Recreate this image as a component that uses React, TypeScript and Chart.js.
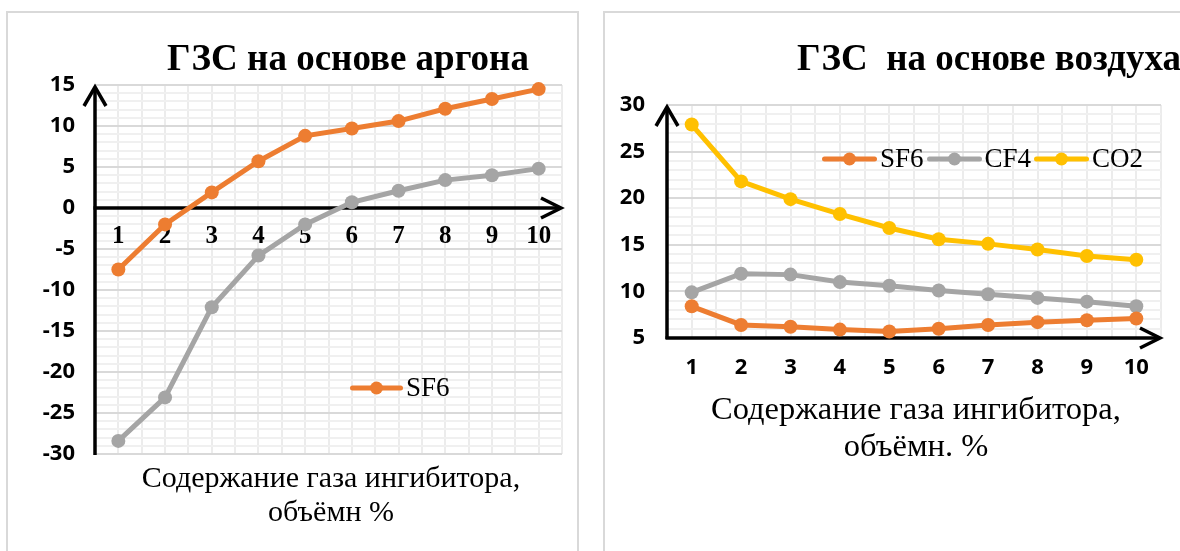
import React, { useEffect, useRef } from 'react';
import { Chart, registerables } from 'chart.js';

Chart.register(...registerables);

// ---------- data ----------
const categories = [1, 2, 3, 4, 5, 6, 7, 8, 9, 10];

// chart 1: ГЗС на основе аргона
const argonSF6 = [-7.5, -2.0, 1.9, 5.7, 8.8, 9.7, 10.6, 12.1, 13.3, 14.5];
const argonCF4 = [-28.4, -23.1, -12.1, -5.8, -2.0, 0.7, 2.1, 3.4, 4.0, 4.8];
const argonYMin = -30;
const argonYMax = 15;

// chart 2: ГЗС на основе воздуха
const airSF6 = [8.4, 6.4, 6.2, 5.9, 5.7, 6.0, 6.4, 6.7, 6.9, 7.1];
const airCF4 = [9.9, 11.9, 11.8, 11.0, 10.6, 10.1, 9.7, 9.3, 8.9, 8.4];
const airCO2 = [27.9, 21.8, 19.9, 18.3, 16.8, 15.6, 15.1, 14.5, 13.8, 13.4];
const airYMin = 5;
const airYMax = 30;

const majorStep = 5;

const titleArgon = 'ГЗС на основе аргона';
const titleAir = 'ГЗС  на основе воздуха';
const xTitleArgon = ['Содержание газа ингибитора,', 'объёмн %'];
const xTitleAir = ['Содержание газа ингибитора,', 'объёмн. %'];

const COLORS: Record<string, string> = {
  SF6: '#ED7D31',
  CF4: '#A5A5A5',
  CO2: '#FFC000',
};

const SERIF = '"Liberation Serif", "Times New Roman", serif';
const SANS = '"Noto Sans", "Open Sans", sans-serif';

const toXY = (vals: number[]) => categories.map((c, i) => ({ x: c, y: vals[i] }));

// ---------- plugin drawing the arrowed axes ----------
const axisArrows = {
  id: 'axisArrows',
  beforeDatasetsDraw(chart: any, _args: any, opts: any) {
    const { ctx, chartArea, scales } = chart;
    const yScale = scales.y;
    const xLine = chartArea.left;
    const yLine = opts.at === undefined ? chartArea.bottom : yScale.getPixelForValue(opts.at);
    const topTip = chartArea.top + 2;
    const rightTip = chartArea.right - 1;
    ctx.save();
    ctx.strokeStyle = '#000';
    ctx.lineWidth = 3.5;
    ctx.lineJoin = 'miter';
    ctx.lineCap = 'butt';
    // vertical axis
    ctx.beginPath();
    ctx.moveTo(xLine, chartArea.bottom + 1);
    ctx.lineTo(xLine, topTip);
    ctx.stroke();
    ctx.beginPath();
    ctx.moveTo(xLine - 11, topTip + 19);
    ctx.lineTo(xLine, topTip);
    ctx.lineTo(xLine + 11, topTip + 19);
    ctx.stroke();
    // horizontal axis
    ctx.beginPath();
    ctx.moveTo(xLine - 1.5, yLine);
    ctx.lineTo(rightTip, yLine);
    ctx.stroke();
    ctx.beginPath();
    ctx.moveTo(rightTip - 20, yLine - 10);
    ctx.lineTo(rightTip, yLine);
    ctx.lineTo(rightTip - 20, yLine + 10);
    ctx.stroke();
    ctx.restore();
  },
};

type Cfg = {
  series: { name: string; values: number[] }[];
  yMin: number;
  yMax: number;
  xAt?: number;
  xHeight: number;
  xTickFont: any;
  xTickPad: number;
  yTickPad: number;
  yWidth: number;
  padding: { left: number; right: number; top: number; bottom: number };
};

function buildConfig(c: Cfg): any {
  return {
    type: 'line',
    data: {
      datasets: c.series.map((s) => ({
        label: s.name,
        data: toXY(s.values),
        borderColor: COLORS[s.name],
        backgroundColor: COLORS[s.name],
        pointBackgroundColor: COLORS[s.name],
        pointBorderColor: COLORS[s.name],
        borderWidth: 5,
        pointRadius: 7,
        pointBorderWidth: 0,
        tension: 0,
        clip: false,
      })),
    },
    plugins: [axisArrows],
    options: {
      animation: false,
      responsive: false,
      maintainAspectRatio: false,
      layout: { padding: c.padding },
      plugins: {
        legend: { display: false },
        title: { display: false },
        tooltip: { enabled: false },
        axisArrows: { at: c.xAt },
      },
      scales: {
        x: {
          type: 'linear',
          min: categories[0] - 0.5,
          max: categories[categories.length - 1] + 0.5,
          position: c.xAt === undefined ? 'bottom' : { y: c.xAt },
          afterFit: (s: any) => {
            s.height = c.xHeight;
          },
          border: { display: false },
          grid: { color: '#ececec', lineWidth: 2, drawTicks: false },
          ticks: {
            stepSize: 0.5,
            autoSkip: false,
            maxRotation: 0,
            padding: c.xTickPad,
            color: '#000',
            font: c.xTickFont,
            callback: (v: number) => {
              const idx = categories.indexOf(v);
              return idx >= 0 ? String(categories[idx]) : '';
            },
          },
        },
        y: {
          type: 'linear',
          min: c.yMin,
          max: c.yMax,
          position: 'left',
          afterFit: (s: any) => {
            s.width = c.yWidth;
          },
          border: { display: false },
          grid: {
            color: (ctx: any) =>
              ctx.tick && ctx.tick.value % majorStep === 0 ? '#d9d9d9' : '#f0f0f0',
            lineWidth: 2,
            drawTicks: false,
          },
          ticks: {
            stepSize: 1,
            autoSkip: false,
            padding: c.yTickPad,
            color: '#000',
            font: { family: SANS, weight: 'bold', size: 22 },
            callback: (v: number) => (v % majorStep === 0 ? String(v) : ''),
          },
        },
      },
    },
  };
}

function ChartCanvas({ cfg, left, top, width, height }: { cfg: Cfg; left: number; top: number; width: number; height: number }) {
  const ref = useRef<HTMLCanvasElement>(null);
  useEffect(() => {
    const chart = new Chart(ref.current as HTMLCanvasElement, buildConfig(cfg));
    return () => chart.destroy();
  }, []);
  return (
    <canvas
      ref={ref}
      width={width}
      height={height}
      style={{ position: 'absolute', left, top, width, height }}
    />
  );
}

function Legend({ items, left, top, fontSize, swatch }: { items: string[]; left: number; top: number; fontSize: number; swatch: number }) {
  return (
    <div
      style={{
        position: 'absolute',
        left,
        top,
        height: fontSize,
        display: 'flex',
        alignItems: 'center',
        fontFamily: SERIF,
        fontSize,
        lineHeight: fontSize + 'px',
        whiteSpace: 'nowrap',
        color: '#000',
      }}
    >
      {items.map((name) => (
        <div key={name} style={{ display: 'flex', alignItems: 'center', marginRight: 3 }}>
          <svg width={swatch} height={14} style={{ display: 'block' }}>
            <line x1={2.5} y1={7} x2={swatch - 2.5} y2={7} stroke={COLORS[name]} strokeWidth={5} strokeLinecap="round" />
            <circle cx={swatch / 2} cy={7} r={6.5} fill={COLORS[name]} />
          </svg>
          <span style={{ marginLeft: 3 }}>{name}</span>
        </div>
      ))}
    </div>
  );
}

function TextBlock({ lines, cx, top, fontSize, lineHeight, bold }: { lines: string[]; cx: number; top: number; fontSize: number; lineHeight: number; bold?: boolean }) {
  return (
    <div
      style={{
        position: 'absolute',
        left: cx - 350,
        top,
        width: 700,
        textAlign: 'center',
        fontFamily: SERIF,
        fontSize,
        lineHeight: lineHeight + 'px',
        fontWeight: bold ? 'bold' : 'normal',
        whiteSpace: 'pre',
        color: '#000',
      }}
    >
      {lines.map((l, i) => (
        <div key={i}>{l}</div>
      ))}
    </div>
  );
}

const argonCfg: Cfg = {
  series: [
    { name: 'SF6', values: argonSF6 },
    { name: 'CF4', values: argonCF4 },
  ],
  yMin: argonYMin,
  yMax: argonYMax,
  xAt: 0,
  xHeight: 0,
  xTickFont: { family: SERIF, weight: 'bold', size: 25 },
  xTickPad: 14,
  yTickPad: 20,
  yWidth: 95,
  padding: { left: 0, right: 28, top: 85, bottom: 97 },
};

const airCfg: Cfg = {
  series: [
    { name: 'SF6', values: airSF6 },
    { name: 'CF4', values: airCF4 },
    { name: 'CO2', values: airCO2 },
  ],
  yMin: airYMin,
  yMax: airYMax,
  xHeight: 213,
  xTickFont: { family: SANS, weight: 'bold', size: 22 },
  xTickPad: 17,
  yTickPad: 22,
  yWidth: 77,
  padding: { left: 0, right: 19, top: 105, bottom: 0 },
};

export default function App() {
  return (
    <div
      style={{
        position: 'fixed',
        left: 0,
        top: 0,
        width: 1180,
        height: 551,
        overflow: 'hidden',
        background: '#fff',
      }}
    >
      <div style={{ position: 'absolute', left: 6, top: 11, width: 573, height: 600, border: '2px solid #d9d9d9', boxSizing: 'border-box' }} />
      <div style={{ position: 'absolute', left: 603, top: 11, width: 700, height: 600, border: '2px solid #d9d9d9', boxSizing: 'border-box' }} />

      <ChartCanvas cfg={argonCfg} left={0} top={0} width={590} height={551} />
      <ChartCanvas cfg={airCfg} left={590} top={0} width={590} height={551} />

      <TextBlock lines={[titleArgon]} cx={348} top={39} fontSize={37} lineHeight={37} bold />
      <div
        style={{
          position: 'absolute',
          left: 797,
          top: 39,
          fontFamily: SERIF,
          fontSize: 37,
          lineHeight: '37px',
          fontWeight: 'bold',
          whiteSpace: 'pre',
          color: '#000',
        }}
      >
        {titleAir}
      </div>

      <Legend items={['SF6']} left={350} top={374} fontSize={27} swatch={53} />
      <Legend items={['SF6', 'CF4', 'CO2']} left={822} top={145} fontSize={27} swatch={55} />

      <TextBlock lines={xTitleArgon} cx={331} top={460} fontSize={30} lineHeight={34} />
      <TextBlock lines={xTitleAir} cx={916} top={390} fontSize={32.5} lineHeight={37} />
    </div>
  );
}
